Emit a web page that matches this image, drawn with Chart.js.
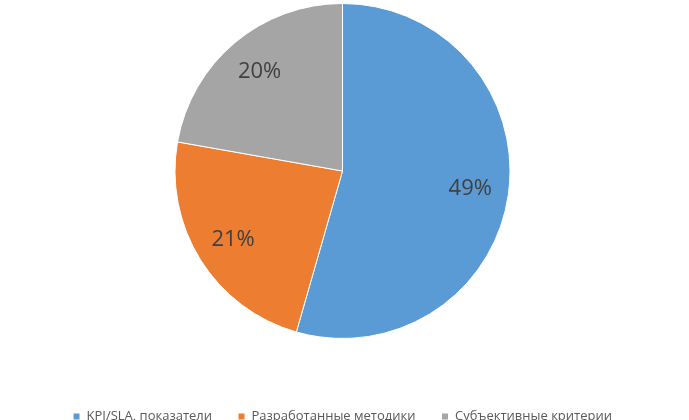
<!DOCTYPE html>
<html><head><meta charset="utf-8">
<script src="https://cdn.jsdelivr.net/npm/chart.js@4"></script>
<style>html,body{margin:0;padding:0;background:#fff}#w{width:689px;height:420px}</style>
</head><body><div id="w"><canvas id="c"></canvas></div>
<script>
const categories = ["KPI/SLA, показатели", "Разработанные методики", "Субъективные критерии"];
const values = [49, 21, 20];
const colors = ["#5B9BD5", "#ED7D31", "#A5A5A5"];

const labelPlugin = {
  id: 'pctLabels',
  afterDatasetsDraw(chart) {
    const ctx = chart.ctx;
    const meta = chart.getDatasetMeta(0);
    ctx.save();
    ctx.font = '22px "Open Sans", "DejaVu Sans", sans-serif';
    ctx.fillStyle = '#404040';
    ctx.textAlign = 'center';
    ctx.textBaseline = 'middle';
    meta.data.forEach((arc, i) => {
      const p = arc.getProps(['x','y','startAngle','endAngle','outerRadius']);
      const a = (p.startAngle + p.endAngle) / 2;
      const r = p.outerRadius * 0.77;
      ctx.fillText(values[i] + '%', p.x + Math.cos(a) * r, p.y + Math.sin(a) * r);
    });
    ctx.restore();
  }
};
const legendFit = {
  id: 'legendFit',
  beforeInit(chart) {
    const f = chart.legend.fit;
    chart.legend.fit = function () { f.call(this); this.height = 78; };
  },
  afterLayout(chart) {
    chart.legend.top += 45; chart.legend.bottom += 45;
  }
};

new Chart(document.getElementById('c'), {
  type: 'pie',
  data: { labels: categories, datasets: [{ data: values, backgroundColor: colors, borderColor: '#fff', borderWidth: 1 }] },
  options: {
    responsive: true, maintainAspectRatio: false, animation: false,
    layout: { padding: { top: 3, bottom: 3, left: 0, right: 4 } },
    plugins: {
      tooltip: { enabled: false },
      legend: {
        position: 'bottom',
        labels: { boxWidth: 7, boxHeight: 7, padding: 26, color: '#595959',
          font: { size: 13, family: '"Open Sans", "DejaVu Sans", sans-serif' } }
      }
    }
  },
  plugins: [labelPlugin, legendFit]
});
</script></body></html>
